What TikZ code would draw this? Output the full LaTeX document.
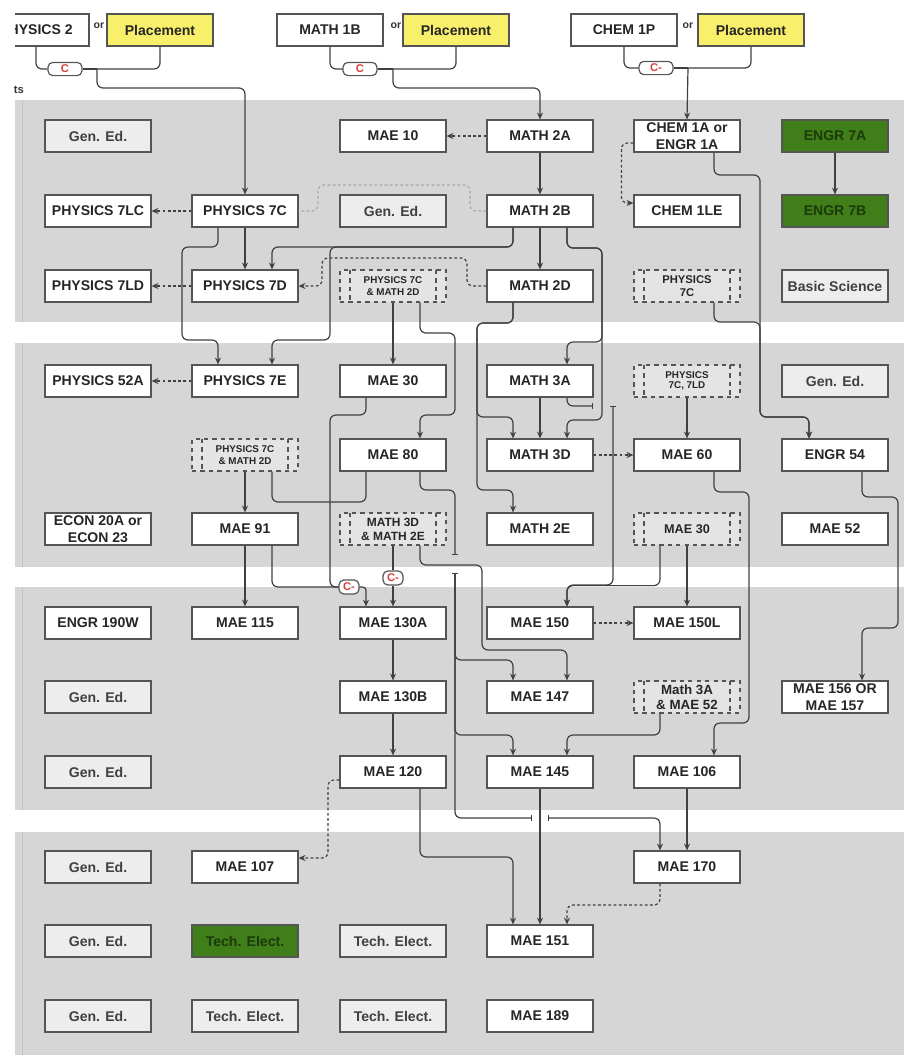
\documentclass[tikz,border=0pt]{standalone}
\usepackage{fontspec}
\setmainfont{Liberation Sans}
\usetikzlibrary{arrows.meta}

\definecolor{panel}{HTML}{D6D6D6}
\definecolor{stripe}{HTML}{C2C2C2}
\definecolor{boxline}{HTML}{555555}
\definecolor{lineclr}{HTML}{404040}
\definecolor{genfill}{HTML}{EDEDED}
\definecolor{prefill}{HTML}{E4E4E4}
\definecolor{elect}{HTML}{3F7E18}
\definecolor{electtext}{HTML}{1C3A0C}
\definecolor{placefill}{HTML}{F8F06A}
\definecolor{gradered}{HTML}{D2403C}

\tikzset{
  course/.style={draw=boxline, fill=white, line width=0.3mm, minimum width=26.5mm,
    minimum height=8mm, inner sep=0pt, align=center, text=black!85,
    font=\bfseries\fontsize{10}{12.5}\selectfont},
  gened/.style={course, fill=genfill, text=black!75},
  elective/.style={course, fill=elect, text=electtext},
  place/.style={course, fill=placefill},
  prereq/.style={course, fill=prefill, dashed, path picture={
    \draw[boxline, dashed, line width=0.3mm] ([xshift=2.5mm]path picture bounding box.north west) -- ([xshift=2.5mm]path picture bounding box.south west);
    \draw[boxline, dashed, line width=0.3mm] ([xshift=-2.5mm]path picture bounding box.north east) -- ([xshift=-2.5mm]path picture bounding box.south east);}},
  grade/.style={draw=boxline, fill=white, line width=0.3mm, rounded corners=1.2mm,
    inner sep=0pt, minimum width=8.5mm, minimum height=3.3mm, text=gradered,
    font=\bfseries\fontsize{8}{8}\selectfont},
  orlbl/.style={inner sep=0pt, text=black!80, font=\bfseries\fontsize{7.5}{8}\selectfont},
  link/.style={draw=lineclr, line width=0.3mm, rounded corners=1.5mm},
  arr/.style={link, -{Stealth[length=1.7mm, width=1.5mm]}},
  coreq/.style={arr, dash pattern=on 0.7mm off 0.6mm},
  coreqfaint/.style={link, draw=lineclr!45, dash pattern=on 0.7mm off 0.6mm},
  hop/.style={link, -{Bar[width=1.6mm]}},
  hopin/.style={link, {Bar[width=1.6mm]}-{Stealth[length=1.7mm, width=1.5mm]}},
}

\begin{document}
\begin{tikzpicture}[x=0.25mm, y=-0.25mm]
\useasboundingbox (0,0) rectangle (904,1060);

% year panels
\foreach \top/\bot in {100/322, 343/567, 587/810, 832/1055}{
  \fill[panel] (15,\top) rectangle (904,\bot);
  \draw[stripe, line width=0.2mm] (22,\top) -- (22,\bot);
}
\node[orlbl, font=\bfseries\fontsize{8}{8}\selectfont] (yr) at (19,90) {ts};

% placement row
\begin{scope}
\clip (15,0) rectangle (100,60);
\node[course] (ph2) at (36,30) {PHYSICS 2};
\end{scope}
\node[place] (pl1) at (160,30) {Placement};
\node[course] (mb) at (330,30) {MATH 1B};
\node[place] (pl2) at (456,30) {Placement};
\node[course] (cp) at (624,30) {CHEM 1P};
\node[place] (pl3) at (751,30) {Placement};
\node[orlbl] (or1) at (99,26) {or};
\node[orlbl] (or2) at (396,26) {or};
\node[orlbl] (or3) at (688,26) {or};
\node[grade] (g1) at (65,69) {C};
\node[grade] (g2) at (360,69) {C};
\node[grade] (g3) at (656,68) {C-};
\coordinate (j1) at (97,69);
\coordinate (j2) at (393,69);
\coordinate (j3) at (688,68);

% year 1
\foreach \y/\n in {136/ge1, 697/ge4, 772/ge5, 867/ge6, 941/ge7, 1016/ge8}
  \node[gened] (\n) at (98,\y) {Gen. Ed.};
\node[course] (mae10) at (393,136) {MAE 10};
\node[course] (m2a) at (540,136) {MATH 2A};
\node[course] (ch1a) at (687,136) {CHEM 1A or\\ENGR 1A};
\node[elective] (e7a) at (835,136) {ENGR 7A};

\node[course] (p7lc) at (98,211) {PHYSICS 7LC};
\node[course] (p7c) at (245,211) {PHYSICS 7C};
\node[gened] (ge2) at (393,211) {Gen. Ed.};
\node[course] (m2b) at (540,211) {MATH 2B};
\node[course] (ch1le) at (687,211) {CHEM 1LE};
\node[elective] (e7b) at (835,211) {ENGR 7B};

\node[course] (p7ld) at (98,286) {PHYSICS 7LD};
\node[course] (p7d) at (245,286) {PHYSICS 7D};
\node[prereq, font=\bfseries\fontsize{7}{8.5}\selectfont] (pre1) at (393,286) {PHYSICS 7C\\\& MATH 2D};
\node[course] (m2d) at (540,286) {MATH 2D};
\node[prereq, font=\bfseries\fontsize{8}{9}\selectfont] (pre2) at (687,286) {PHYSICS\\7C};
\node[gened] (bsci) at (835,286) {Basic Science};

% year 2
\node[course] (p52a) at (98,381) {PHYSICS 52A};
\node[course] (p7e) at (245,381) {PHYSICS 7E};
\node[course] (mae30) at (393,381) {MAE 30};
\node[course] (m3a) at (540,381) {MATH 3A};
\node[prereq, font=\bfseries\fontsize{7}{7.5}\selectfont] (pre3) at (687,381) {PHYSICS\\7C, 7LD};
\node[gened] (ge3) at (835,381) {Gen. Ed.};

\node[prereq, font=\bfseries\fontsize{7}{8.5}\selectfont] (pre4) at (245,455) {PHYSICS 7C\\\& MATH 2D};
\node[course] (mae80) at (393,455) {MAE 80};
\node[course] (m3d) at (540,455) {MATH 3D};
\node[course] (mae60) at (687,455) {MAE 60};
\node[course] (e54) at (835,455) {ENGR 54};

\node[course] (econ) at (98,529) {ECON 20A or\\ECON 23};
\node[course] (mae91) at (245,529) {MAE 91};
\node[prereq, font=\bfseries\fontsize{8.5}{10}\selectfont] (pre5) at (393,529) {MATH 3D\\\& MATH 2E};
\node[course] (m2e) at (540,529) {MATH 2E};
\node[prereq, font=\bfseries\fontsize{9}{10}\selectfont] (pre6) at (687,529) {MAE 30};
\node[course] (mae52) at (835,529) {MAE 52};

% year 3
\node[course] (e190w) at (98,623) {ENGR 190W};
\node[course] (mae115) at (245,623) {MAE 115};
\node[course] (mae130a) at (393,623) {MAE 130A};
\node[course] (mae150) at (540,623) {MAE 150};
\node[course] (mae150l) at (687,623) {MAE 150L};

\node[course] (mae130b) at (393,697) {MAE 130B};
\node[course] (mae147) at (540,697) {MAE 147};
\node[prereq, font=\bfseries\fontsize{9.5}{11}\selectfont] (pre7) at (687,697) {Math 3A\\\& MAE 52};
\node[course] (mae156) at (835,697) {MAE 156 OR\\MAE 157};

\node[course] (mae120) at (393,772) {MAE 120};
\node[course] (mae145) at (540,772) {MAE 145};
\node[course] (mae106) at (687,772) {MAE 106};

% year 4
\node[course] (mae107) at (245,867) {MAE 107};
\node[course] (mae170) at (687,867) {MAE 170};
\node[elective] (te1) at (245,941) {Tech. Elect.};
\node[gened] (te2) at (393,941) {Tech. Elect.};
\node[course] (mae151) at (540,941) {MAE 151};
\node[gened] (te3) at (245,1016) {Tech. Elect.};
\node[gened] (te4) at (393,1016) {Tech. Elect.};
\node[course] (mae189) at (540,1016) {MAE 189};

% grade marks on the way to MAE 130A
\node[grade, minimum width=5mm, minimum height=3.5mm] (g4) at (349,587) {C-};
\node[grade, minimum width=5mm, minimum height=3.5mm] (g5) at (393,578) {C-};

% hop ends
\coordinate (hA) at (593,406);
\coordinate (hB) at (613,406);
\coordinate (hC) at (455,555);
\coordinate (hD) at (455,573);
\coordinate (hE) at (532,818);
\coordinate (hF) at (548,818);

% placement links
\draw[link] (ph2.south) |- (g1.west);
\draw[link] (g1.east) -- (j1);
\draw[link] (pl1.south) |- (j1);
\draw[arr] (j1) -- (97,88) -| (p7c.north);
\draw[link] (mb.south) |- (g2.west);
\draw[link] (g2.east) -- (j2);
\draw[link] (pl2.south) |- (j2);
\draw[arr] (j2) -- (393,88) -| (m2a.north);
\draw[link] (cp.south) |- (g3.west);
\draw[link] (g3.east) -- (j3);
\draw[link] (pl3.south) |- (j3);
\draw[arr] (j3) -- (ch1a.north);

% year 1
\draw[coreq] (m2a.west) -- (mae10.east);
\draw[arr] (m2a) -- (m2b);
\draw[arr] (m2b) -- (m2d);
\draw[arr] (e7a) -- (e7b);
\draw[coreq] ([yshift=-1.75mm]ch1a.west) -- ++(-12,0) |- ([yshift=2mm]ch1le.west);
\draw[arr] ([xshift=6.75mm]ch1a.south) |- (760,175) -- (760,417) -| ([xshift=-6.5mm]e54.north);
\draw[arr] ([xshift=6.75mm]pre2.south) |- (760,322) -- (760,417) -| ([xshift=-6.5mm]e54.north);
\draw[coreq] (p7c.west) -- (p7lc.east);
\draw[coreq] (p7d.west) -- (p7ld.east);
\draw[coreqfaint] (m2b.west) -| (470,185) -| (318,211) -- (p7c.east);
\draw[coreq] (m2d.west) -| (467,258) -| (322,286) -- (p7d.east);
\draw[arr] (p7c) -- (p7d);
\draw[arr] ([xshift=-6.75mm]p7c.south) |- (182,247) -- (182,340) -| ([xshift=-6.75mm]p7e.north);
\draw[arr] ([xshift=-6.75mm]m2b.south) |- (272,247) -- ([xshift=6.75mm]p7d.north);
\draw[arr] ([xshift=-6.75mm]m2b.south) |- (330,247) -- (330,340) -| ([xshift=6.75mm]p7e.north);
\draw[arr] ([xshift=6.75mm]m2b.south) |- (602,248) -- (602,420) -| ([xshift=6.75mm]m3d.north);
\draw[arr] ([xshift=6.75mm]m2b.south) |- (602,248) -- (602,342) -| ([xshift=6.75mm]m3a.north);
\draw[arr] ([xshift=-6.75mm]m2d.south) |- (477,323) -- (477,417) -| ([xshift=-6.75mm]m3d.north);
\draw[arr] ([xshift=-6.75mm]m2d.south) |- (477,323) -- (477,490) -| ([xshift=-6.75mm]m2e.north);
\draw[arr] (pre1) -- (mae30);
\draw[arr] ([xshift=6.75mm]pre1.south) |- (455,333) -- (455,415) -| ([xshift=6.75mm]mae80.north);

% year 2
\draw[coreq] (p7e.west) -- (p52a.east);
\draw[arr] (m3a) -- (m3d);
\draw[hop] ([xshift=6.75mm]m3a.south) |- (hA);
\draw[hopin] (hB) -- (613,585) -| ([xshift=6.75mm]mae150.north);
\draw[arr] (pre3) -- (mae60);
\draw[coreq] (m3d) -- (mae60);
\draw[arr] ([xshift=6.75mm]mae60.south) |- (749,492) -- (749,723) -| ([xshift=6.75mm]mae106.north);
\draw[arr] ([xshift=6.75mm]e54.south) |- (898,497) -- (898,628) -| ([xshift=6.75mm]mae156.north);
\draw[arr] (pre4) -- (mae91);
\draw[link] ([xshift=-6.75mm]mae80.south) |- (272,502) -- ([xshift=6.75mm]pre4.south);
\draw[link] ([xshift=-6.75mm]mae30.south) |- (330,415) |- (g4.west);
\draw[link] ([xshift=6.75mm]mae91.south) |- (g4.west);
\draw[arr, rounded corners=0.8mm] (g4.east) -| ([xshift=-6.75mm]mae130a.north);
\draw[link] (pre5) -- (g5);
\draw[arr] (g5) -- (mae130a);
\draw[arr] (mae91) -- (mae115);
\draw[arr] ([xshift=6.75mm]pre5.south) |- (482,565) -- (482,650) -| ([xshift=6.75mm]mae147.north);
\draw[hop] ([xshift=6.75mm]mae80.south) |- (455,490) -- (hC);
\draw[arr] ([xshift=-6.75mm]pre6.south) -- ++(0,40) -| ([xshift=6.75mm]mae150.north);
\draw[arr] (pre6) -- (mae150l);

% year 3
\draw[hopin] (hD) -- (455,660) -| ([xshift=-6.75mm]mae147.north);
\draw[hopin] (hD) -- (455,735) -| ([xshift=-6.75mm]mae145.north);
\draw[hop] (hD) -- (455,818) -- (hE);
\draw[hopin] (hF) -| ([xshift=-6.75mm]mae170.north);
\draw[coreq] (mae150) -- (mae150l);
\draw[arr] (mae130a) -- (mae130b);
\draw[arr] (mae130b) -- (mae120);
\draw[arr] ([xshift=-6.75mm]pre7.south) |- (567,735) -- ([xshift=6.75mm]mae145.north);
\draw[arr] (mae145) -- (mae151);
\draw[arr] (mae106) -- (mae170);
\draw[coreq] ([yshift=-2mm]mae120.west) -| (328,858) -- ([yshift=2.25mm]mae107.east);
\draw[arr] ([xshift=6.75mm]mae120.south) |- (513,857) -- ([xshift=-6.75mm]mae151.north);

% year 4
\draw[coreq] ([xshift=-6.75mm]mae170.south) |- (567,905) -- ([xshift=6.75mm]mae151.north);
\end{tikzpicture}
\end{document}
